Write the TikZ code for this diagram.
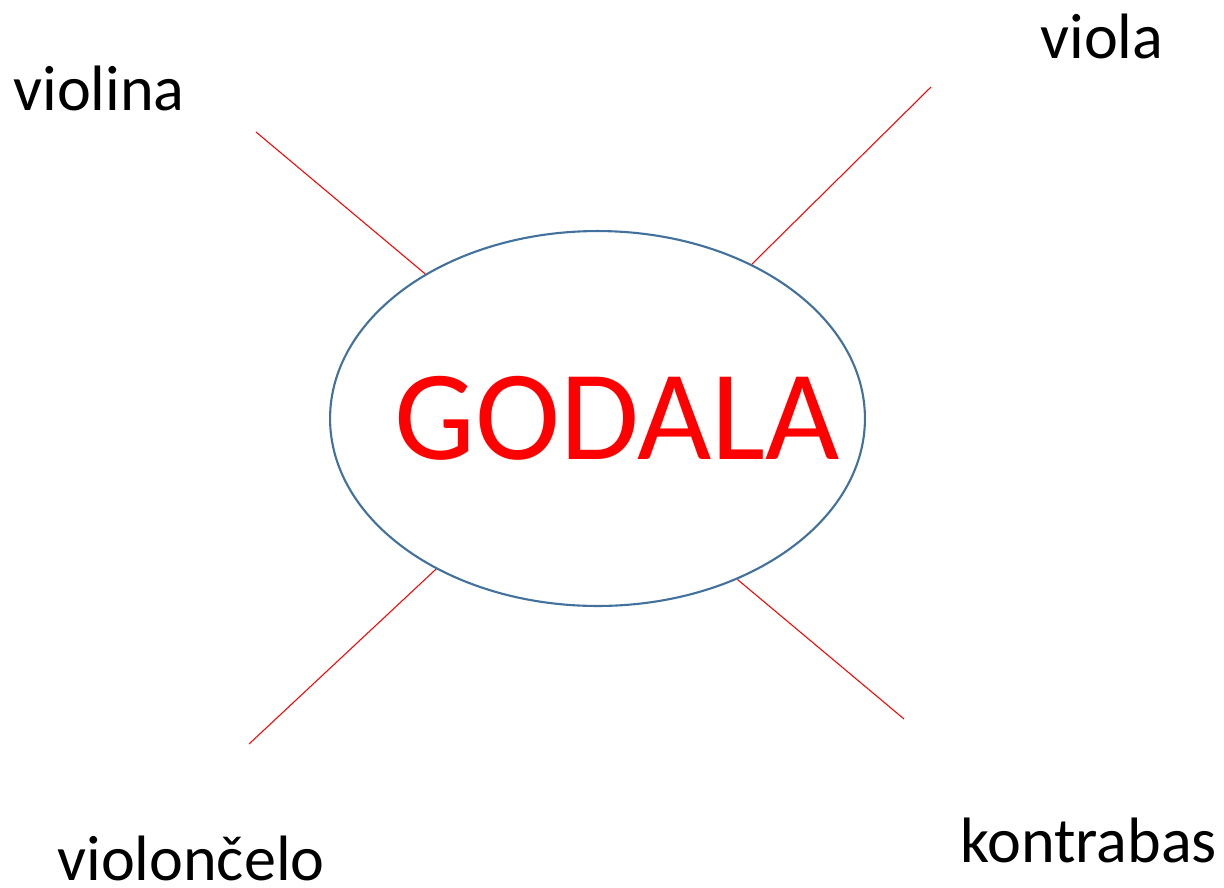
\documentclass[tikz,border=0pt]{standalone}
\usepackage{fontspec}
\setmainfont{Carlito}
\usetikzlibrary{shapes.geometric}
\definecolor{ovalblue}{RGB}{65,113,156}

\begin{document}
\begin{tikzpicture}[x=0.02cm, y=0.02cm]
            \tikzstyle{every node}+=[inner sep=0pt]
            \tikzstyle{instrument}=[anchor=base west, font=\fontsize{36.5}{42}\selectfont]
            \tikzstyle{spoke}=[red, line width=0.6pt]
            \useasboundingbox (0,0) rectangle (1224,-887);
            \node [draw=ovalblue, line width=1.2pt, ellipse, minimum width=10.7cm, minimum height=7.5cm] (oval) at (597.5,-418.5) {};
            \node [red, font=\fontsize{73}{84}\selectfont] (godala) at (617,-418) {GODALA};
            \node [instrument] (violina) at (13,-110) {violina};
            \node [instrument] (viola) at (1040,-58) {viola};
            \node [instrument] (violoncelo) at (57,-880) {violončelo};
            \node [instrument] (kontrabas) at (960,-862) {kontrabas};
            \coordinate (violinaend) at (256,-132);
            \coordinate (violaend) at (931,-87);
            \coordinate (violoncelonend) at (249,-744);
            \coordinate (kontrabasend) at (904,-719);
            \draw [spoke] (oval.140) -- (violinaend);
            \draw [spoke] (oval.45) -- (violaend);
            \draw [spoke] (oval.223) -- (violoncelonend);
            \draw [spoke] (oval.311) -- (kontrabasend);
        \end{tikzpicture}
\end{document}
